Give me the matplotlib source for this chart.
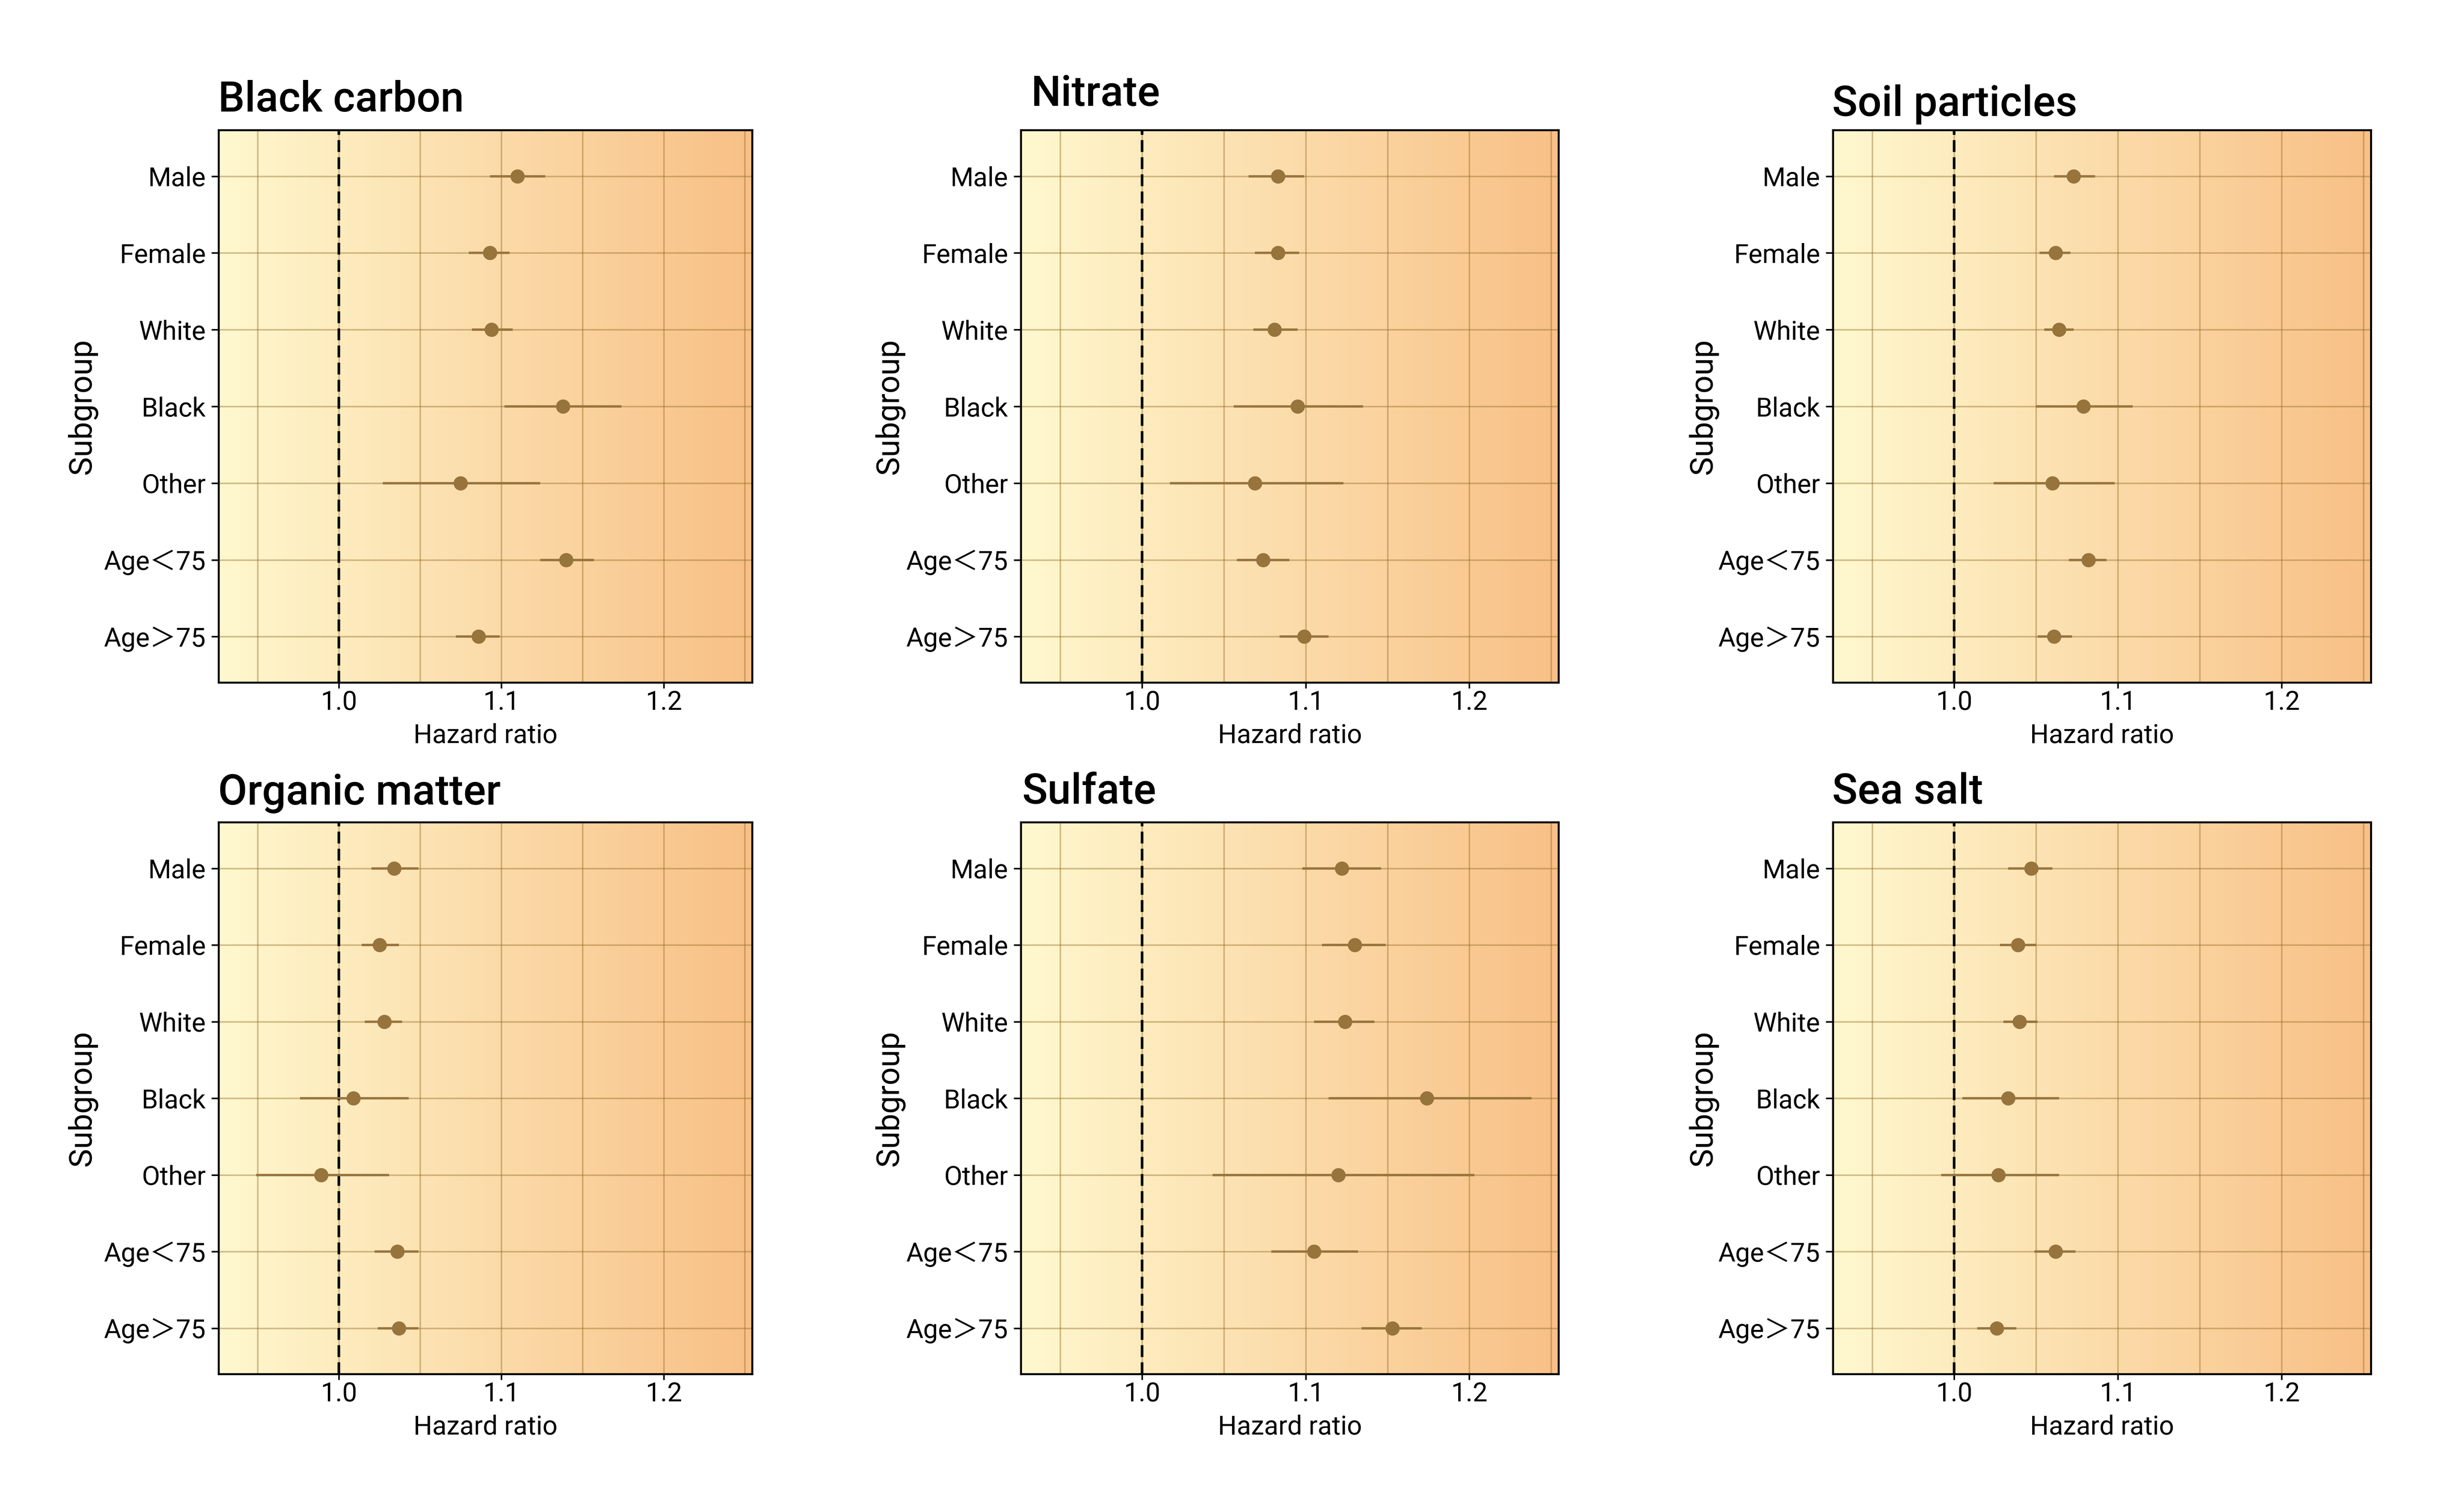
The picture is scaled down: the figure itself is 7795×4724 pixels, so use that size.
import numpy as np
import matplotlib
matplotlib.use("Agg")
import matplotlib.pyplot as plt
from matplotlib.colors import LinearSegmentedColormap

plt.rcParams['font.family'] = ['Roboto', 'Noto Sans CJK SC', 'DejaVu Sans']

# ---------------- data ----------------
subgroups = ['Male', 'Female', 'White', 'Black', 'Other', 'Age＜75', 'Age＞75']
pollutants = ['Black carbon', 'Nitrate', 'Soil particles',
              'Organic matter', 'Sulfate', 'Sea salt']

bc_hr = [1.110, 1.093, 1.094, 1.138, 1.075, 1.140, 1.086]
bc_lo = [1.093, 1.080, 1.082, 1.102, 1.027, 1.124, 1.072]
bc_hi = [1.127, 1.105, 1.107, 1.174, 1.124, 1.157, 1.099]

no3_hr = [1.083, 1.083, 1.081, 1.095, 1.069, 1.074, 1.099]
no3_lo = [1.065, 1.069, 1.068, 1.056, 1.017, 1.058, 1.084]
no3_hi = [1.099, 1.096, 1.095, 1.135, 1.123, 1.090, 1.114]

soil_hr = [1.073, 1.062, 1.064, 1.079, 1.060, 1.082, 1.061]
soil_lo = [1.061, 1.052, 1.055, 1.050, 1.024, 1.070, 1.051]
soil_hi = [1.086, 1.071, 1.073, 1.109, 1.098, 1.093, 1.072]

om_hr = [1.034, 1.025, 1.028, 1.009, 0.989, 1.036, 1.037]
om_lo = [1.020, 1.014, 1.016, 0.976, 0.949, 1.022, 1.024]
om_hi = [1.049, 1.037, 1.039, 1.043, 1.031, 1.049, 1.049]

so4_hr = [1.122, 1.130, 1.124, 1.174, 1.120, 1.105, 1.153]
so4_lo = [1.098, 1.110, 1.105, 1.114, 1.043, 1.079, 1.134]
so4_hi = [1.146, 1.149, 1.142, 1.238, 1.203, 1.132, 1.171]

ss_hr = [1.047, 1.039, 1.040, 1.033, 1.027, 1.062, 1.026]
ss_lo = [1.033, 1.028, 1.030, 1.005, 0.992, 1.049, 1.014]
ss_hi = [1.060, 1.050, 1.051, 1.064, 1.064, 1.074, 1.038]

series = [(bc_hr, bc_lo, bc_hi), (no3_hr, no3_lo, no3_hi), (soil_hr, soil_lo, soil_hi),
          (om_hr, om_lo, om_hi), (so4_hr, so4_lo, so4_hi), (ss_hr, ss_lo, ss_hi)]

x_major = [1.0, 1.1, 1.2]
x_major_labels = ['1.0', '1.1', '1.2']
x_minor = [0.95, 1.05, 1.15, 1.25]
ref_value = 1.0

# ---------------- layout / style ----------------
W, H = 7795, 4724
DPI = 600
fig = plt.figure(figsize=(W / DPI, H / DPI), dpi=DPI)

col_left = [692, 3230, 5799]
col_width = [1688, 1701, 1702]
row_top = [412, 2602]
row_bottom = [2160, 4348]
title_x = [690, 3261, 5796, 690, 3233, 5796]
title_base = [353, 335, 367, 2546, 2543, 2543]
ylab_x = [260, 2814, 5388]

xlim = (0.926, 1.2546)
ylim = (len(subgroups) - 0.4, -0.6)

grad = LinearSegmentedColormap.from_list('bg', ['#FFF8CF', '#F8C086'])
pt_color = '#98743D'
grid_color = '#966E28'

for k, name in enumerate(pollutants):
    r, c = divmod(k, 3)
    left = col_left[c] / W
    bottom = 1 - row_bottom[r] / H
    width = col_width[c] / W
    height = (row_bottom[r] - row_top[r]) / H
    ax = fig.add_axes([left, bottom, width, height])

    ax.imshow(np.linspace(0, 1, 512)[None, :], cmap=grad, aspect='auto',
              extent=(xlim[0], xlim[1], ylim[0], ylim[1]), zorder=0.1,
              interpolation='bilinear')

    hr, lo, hi = (np.array(a) for a in series[k])
    y = np.arange(len(subgroups))

    ax.axvline(ref_value, color='black', lw=1.0, ls=(0, (4.5, 2.0)), zorder=2)
    ax.errorbar(hr, y, xerr=[hr - lo, hi - hr], fmt='o', color=pt_color,
                ms=5.4, mew=0, elinewidth=0.9, capsize=1.8, capthick=0.9,
                zorder=3)

    ax.set_xlim(*xlim)
    ax.set_ylim(*ylim)
    ax.set_xticks(x_major)
    ax.set_xticklabels(x_major_labels)
    ax.set_xticks(x_minor, minor=True)
    ax.set_yticks(y)
    ax.set_yticklabels(subgroups)

    ax.grid(which='major', axis='both', color=grid_color, alpha=0.42, lw=0.6)
    ax.grid(which='minor', axis='x', color=grid_color, alpha=0.42, lw=0.6)
    ax.set_axisbelow(True)

    ax.tick_params(which='major', length=2.75, width=0.6, color='black',
                   labelsize=10, labelcolor='black', pad=2.2)
    ax.tick_params(axis='x', which='major', length=2.2, pad=0.6)
    ax.tick_params(which='minor', length=0)
    for s in ax.spines.values():
        s.set_linewidth(0.75)
        s.set_color('black')
        s.set_zorder(5)

    ax.set_xlabel('Hazard ratio', fontsize=10, labelpad=3)
    ax.set_ylabel('Subgroup', fontsize=12, va='center')
    ax.yaxis.set_label_coords((ylab_x[c] - col_left[c]) / col_width[c], 0.5)

    fig.text(title_x[k] / W, 1 - title_base[k] / H, name, fontsize=16,
             fontweight='medium', ha='left', va='baseline')

fig.savefig('out.png', dpi=DPI)
